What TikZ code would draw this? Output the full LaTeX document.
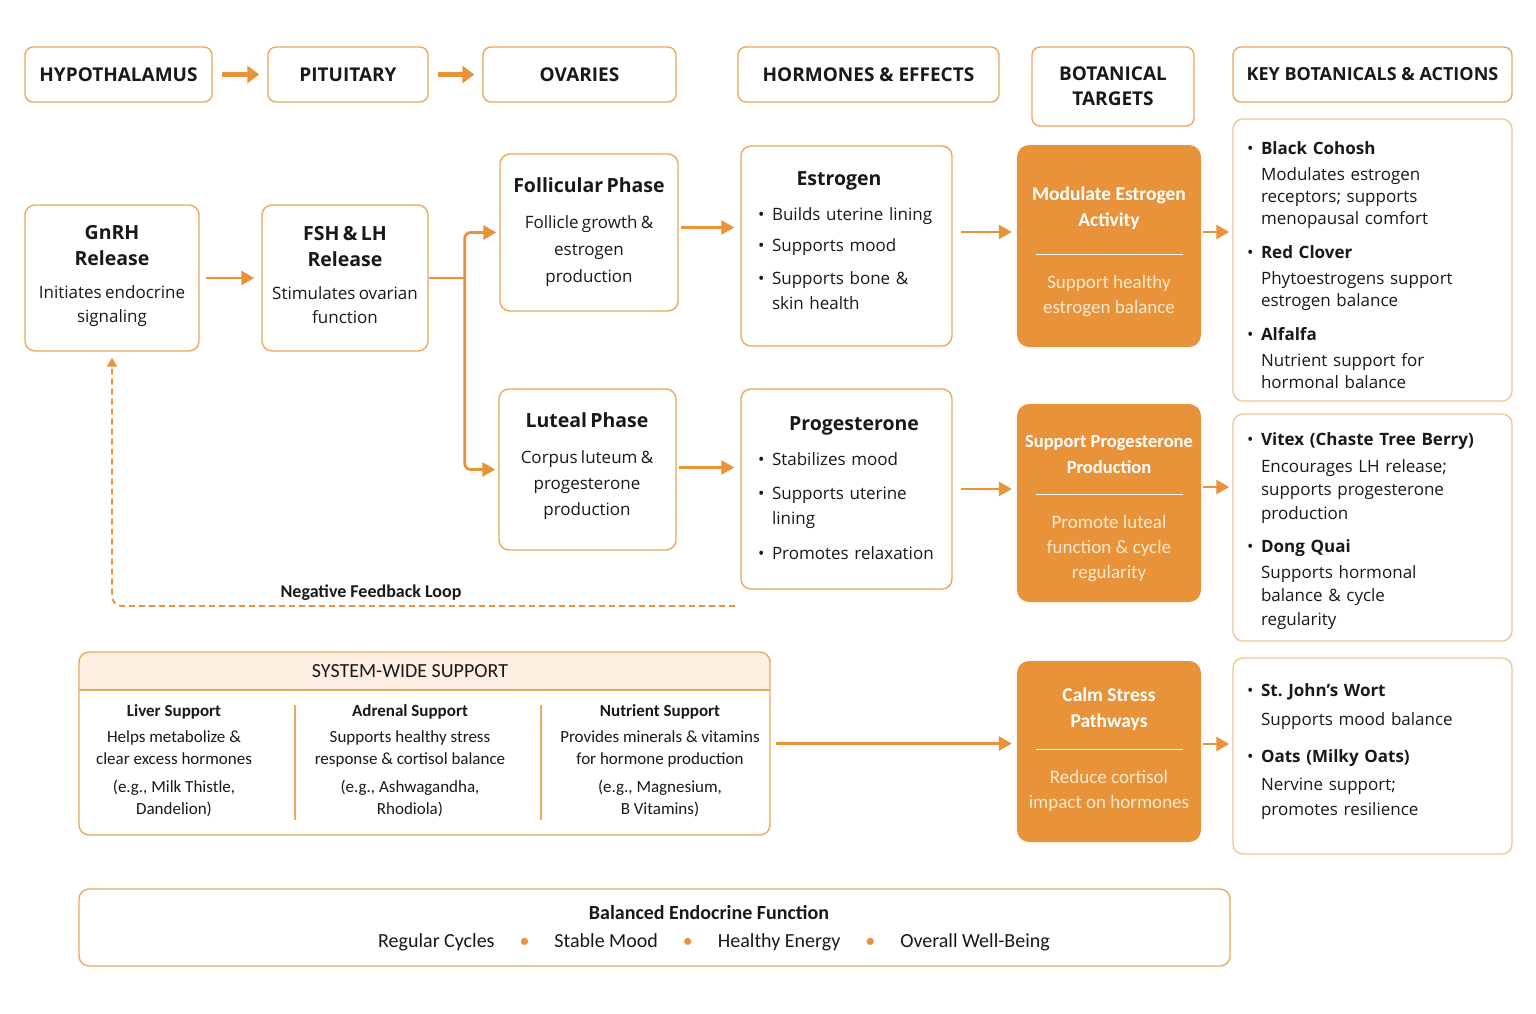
\documentclass[tikz,border=0pt]{standalone}
\usepackage{fontspec}
\setmainfont{Open Sans}
\newfontfamily\cond{Carlito}
\usetikzlibrary{arrows.meta,positioning,calc}
\definecolor{orng}{RGB}{232,146,58}
\definecolor{orngline}{RGB}{236,168,92}
\definecolor{keyline}{RGB}{238,200,145}
\definecolor{cream}{RGB}{253,233,205}
\definecolor{band}{RGB}{253,240,226}
\definecolor{ink}{RGB}{25,25,25}
\frenchspacing
\makeatletter
\let\brk\@normalcr
\makeatother
\newcommand{\fsz}[2]{\fontsize{#1}{#2}\selectfont}
\newcommand{\bitem}[1]{\par\hangindent=14pt\hangafter=1\noindent\makebox[14pt][l]{\textbullet}#1\par}

\begin{document}
\begin{tikzpicture}[x=1pt,y=-1pt,
    hdr/.style={draw=orngline,line width=1.4pt,rounded corners=8pt,minimum height=55pt,inner sep=0pt,
      font=\bfseries\fsz{19}{25},align=center,text=ink},
    box/.style={draw=orngline,line width=1.4pt,rounded corners=10pt,inner sep=0pt},
    keybox/.style={box,draw=keyline},
    obox/.style={fill=orng,rounded corners=12pt,inner sep=0pt,minimum width=184pt},
    txt/.style={inner sep=0pt,align=center,text=ink},
    otitle/.style={txt,text=white,font=\cond\bfseries\fsz{19.5}{26}},
    obody/.style={txt,text=cream,font=\cond\fsz{19}{25}},
    bigarr/.style={orng,line width=4.5pt,-{Triangle[length=12pt,width=17pt]}},
    flow/.style={orng,line width=2.8pt,-{Triangle[length=13pt,width=14pt]}},
    fb/.style={orng,line width=1.8pt,dash pattern=on 6pt off 4pt,rounded corners=10pt,
      -{Triangle[length=9pt,width=10pt]}}]
  \path[use as bounding box,fill=white] (0,0) rectangle (1536,1014);

  \node[hdr,minimum width=187pt] (hypo) at (118.5,74.5) {HYPOTHALAMUS};
  \node[hdr,minimum width=160pt] (pit) at (348,74.5) {PITUITARY};
  \node[hdr,minimum width=193pt] (ova) at (579.5,74.5) {OVARIES};
  \node[hdr,minimum width=261pt] (horm) at (868.5,74.5) {HORMONES \& EFFECTS};
  \node[hdr,minimum width=162pt,minimum height=79pt] (bot) at (1113,86.5) {BOTANICAL\\TARGETS};
  \node[hdr,minimum width=279pt,font=\bfseries\fsz{18}{25}] (keyh) at (1372.5,74.5) {KEY BOTANICALS \& ACTIONS};
  \path[bigarr,shorten <=9pt,shorten >=8pt] (hypo) edge (pit) (pit) edge (ova);

  \node[box,minimum width=174pt,minimum height=146pt] (gnrh) at (112,278) {};
  \node[txt,text width=170pt] (gnrht) at (112,276)
    {{\bfseries\fsz{19.5}{26}GnRH\\Release\par}\vspace{9pt}{\fsz{17}{24}Initiates endocrine\\signaling\par}};
  \node[box,minimum width=166pt,minimum height=146pt] (fsh) at (345,278) {};
  \node[txt,text width=162pt] (fsht) at (345,275)
    {{\bfseries\fsz{19.5}{26}FSH \& LH\\Release\par}\vspace{9pt}{\fsz{17}{24}Stimulates ovarian\\function\par}};

  \node[box,minimum width=178pt,minimum height=157pt] (foll) at (589,232.5) {};
  \node[txt,text width=174pt] (follt) at (589,232)
    {{\bfseries\fsz{19.5}{26}Follicular Phase\par}\vspace{9pt}{\fsz{17}{27}Follicle growth \&\\estrogen\\production\par}};
  \node[box,minimum width=177pt,minimum height=161pt] (lut) at (587.5,469.5) {};
  \node[txt,text width=173pt] (lutt) at (587,466)
    {{\bfseries\fsz{19.5}{26}Luteal Phase\par}\vspace{10pt}{\fsz{17}{26}Corpus luteum \&\\progesterone\\production\par}};

  \node[box,minimum width=211pt,minimum height=200pt] (est) at (846.5,246) {};
  \node[txt,align=left,text width=192pt,font=\fsz{17}{25}] (estt) at (854,240.5)
    {{\centering\bfseries\fsz{19.5}{25}\hspace*{-30pt}Estrogen\par}\vspace{10pt}
     \bitem{Builds uterine lining}\vspace{6pt}\bitem{Supports mood}\vspace{8pt}
     \bitem{Supports bone \&\brk skin health}};
  \node[box,minimum width=211pt,minimum height=200pt] (prog) at (846.5,489) {};
  \node[txt,align=left,text width=192pt,font=\fsz{17}{25}] (progt) at (854,488.5)
    {{\centering\bfseries\fsz{19.5}{25}Progesterone\par}\vspace{10pt}
     \bitem{Stabilizes mood}\vspace{9pt}\bitem{Supports uterine\brk lining}\vspace{10pt}
     \bitem{Promotes relaxation}};

  \node[obox,minimum height=202pt] (mod) at (1109,246) {};
  \node[otitle] (modt) at (1109,208) {Modulate Estrogen\\Activity};
  \draw[white,line width=1.2pt] ($(mod.north west)+(19,110)$) -- ($(mod.north east)+(-18,110)$);
  \node[obody] (modb) at (1109,296.5) {Support healthy\\estrogen balance};
  \node[obox,minimum height=198pt] (sup) at (1109,503) {};
  \node[otitle,font=\cond\bfseries\fsz{18.5}{26}] (supt) at (1109,454) {Support Progesterone\\Production};
  \draw[white,line width=1.2pt] ($(sup.north west)+(19,91)$) -- ($(sup.north east)+(-18,91)$);
  \node[obody] (supb) at (1109,548.5) {Promote luteal\\function \& cycle\\regularity};
  \node[obox,minimum height=181pt] (calm) at (1109,751.5) {};
  \node[otitle] (calmt) at (1109,709) {Calm Stress\\Pathways};
  \draw[white,line width=1.2pt] ($(calm.north west)+(19,89)$) -- ($(calm.north east)+(-18,89)$);
  \node[obody] (calmb) at (1109,791) {Reduce cortisol\\impact on hormones};

  \node[keybox,minimum width=279pt,minimum height=282pt] (key1) at (1372.5,260) {};
  \node[txt,align=left,text width=258pt,font=\fsz{17}{22}] (key1t) at (1376,261)
    {\bitem{\textbf{Black Cohosh}\brk[4pt]Modulates estrogen\brk receptors; supports\brk menopausal comfort}\vspace{12pt}
     \bitem{\textbf{Red Clover}\brk[4pt]Phytoestrogens support\brk estrogen balance}\vspace{12pt}
     \bitem{\textbf{Alfalfa}\brk[4pt]Nutrient support for\brk hormonal balance}};
  \node[keybox,minimum width=279pt,minimum height=227pt] (key2) at (1372.5,527.5) {};
  \node[txt,align=left,text width=258pt,font=\fsz{17}{23.5}] (key2t) at (1376,525.5)
    {\bitem{\textbf{Vitex (Chaste Tree Berry)}\brk[3.5pt]Encourages LH release;\brk supports progesterone\brk production}\vspace{9.5pt}
     \bitem{\textbf{Dong Quai}\brk[2.5pt]Supports hormonal\brk balance \& cycle\brk regularity}};
  \node[keybox,minimum width=279pt,minimum height=196pt] (key3) at (1372.5,756) {};
  \node[txt,align=left,text width=258pt,font=\fsz{17}{25}] (key3t) at (1376,745.5)
    {\bitem{\textbf{St. John's Wort}\brk[4pt]Supports mood balance}\vspace{12pt}
     \bitem{\textbf{Oats (Milky Oats)}\brk[3pt]Nervine support;\brk promotes resilience}};

  \path[flow,shorten <=6pt,shorten >=7pt] (gnrh) edge (fsh);
  \draw[orng,line width=2.8pt] (fsh.east) -- ++(36,0) coordinate (split);
  \draw[flow,rounded corners=6pt,shorten >=3pt] (split) |- (foll.west);
  \draw[flow,rounded corners=6pt,shorten >=3pt] (split) |- (lut.west);
  \draw[flow,shorten <=2pt,shorten >=6pt] ([yshift=5pt]foll.east) -- ([yshift=5pt]foll.east -| est.west);
  \draw[flow,shorten <=2pt,shorten >=6pt] ([yshift=2pt]lut.east) -- ([yshift=2pt]lut.east -| prog.west);
  \draw[flow,shorten <=8pt,shorten >=5pt] ([yshift=14pt]est.east) -- ([yshift=14pt]est.east -| mod.west);
  \draw[flow,shorten <=8pt,shorten >=5pt] (prog.east) -- (prog.east -| sup.west);
  \draw[flow,shorten <=2pt,shorten >=3pt] ([yshift=14pt]mod.east) -- ([yshift=14pt]mod.east -| key1.west);
  \draw[flow,shorten <=2pt,shorten >=3pt] ([yshift=16pt]sup.east) -- ([yshift=16pt]sup.east -| key2.west);
  \draw[flow,shorten <=2pt,shorten >=3pt] ([yshift=7.5pt]calm.east) -- ([yshift=7.5pt]calm.east -| key3.west);

  \coordinate (fbend) at (735,606);
  \draw[fb,shorten >=6pt] (fbend) -| (gnrh.south);
  \node[txt,font=\cond\bfseries\fsz{18}{22}] (fbl) at (371,593) {Negative Feedback Loop};

  \fill[band] (79,690) [rounded corners=10pt] -- (79,652) -- (770,652) [sharp corners] -- (770,690) -- cycle;
  \draw[orngline,line width=1.4pt] (79,690) -- (770,690);
  \node[box,minimum width=691pt,minimum height=183pt] (sys) at (424.5,743.5) {};
  \node[txt,font=\cond\fsz{20}{24}] (syst) at (410,671) {SYSTEM-WIDE SUPPORT};
  \draw[orngline,line width=1.4pt] (295,705) -- (295,820) (541,705) -- (541,820);
  \node[txt,font=\cond\fsz{17}{22}] (liver) at (174,760.5)
    {{\bfseries Liver Support}\\[4pt]Helps metabolize \&\\clear excess hormones\\[6pt](e.g., Milk Thistle,\\Dandelion)};
  \node[txt,font=\cond\fsz{17}{22}] (adrenal) at (410,760.5)
    {{\bfseries Adrenal Support}\\[4pt]Supports healthy stress\\response \& cortisol balance\\[6pt](e.g., Ashwagandha,\\Rhodiola)};
  \node[txt,font=\cond\fsz{17}{22}] (nutrient) at (660,760.5)
    {{\bfseries Nutrient Support}\\[4pt]Provides minerals \& vitamins\\for hormone production\\[6pt](e.g., Magnesium,\\B Vitamins)};
  \draw[flow,shorten <=5pt,shorten >=5pt] (sys.east) -- (sys.east -| calm.west);

  \node[box,minimum width=1151pt,minimum height=77pt] (bal) at (654.5,927.5) {};
  \node[txt,font=\cond\bfseries\fsz{20}{24}] (balt) at (709,913) {Balanced Endocrine Function};
  \node[txt,font=\cond\fsz{20}{24}] (balr) at (714,942)
    {Regular Cycles\hspace{25pt}\textcolor{orng}{\textbullet}\hspace{25pt}Stable Mood\hspace{25pt}\textcolor{orng}{\textbullet}\hspace{25pt}Healthy Energy\hspace{25pt}\textcolor{orng}{\textbullet}\hspace{25pt}Overall Well-Being};
\end{tikzpicture}
\end{document}
